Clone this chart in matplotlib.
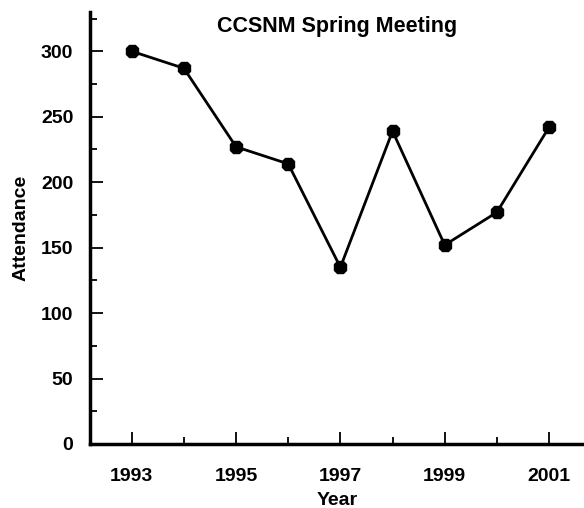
import matplotlib.pyplot as plt
from matplotlib.ticker import MultipleLocator

years = [1993, 1994, 1995, 1996, 1997, 1998, 1999, 2000, 2001]
attendance = [300, 287, 227, 214, 135, 239, 152, 177, 242]

plt.rcParams['font.family'] = ['Liberation Sans', 'DejaVu Sans']
plt.rcParams['font.weight'] = 'bold'

fig = plt.figure(figsize=(5.84, 5.08), dpi=100)
ax = fig.add_axes([90 / 584, 64 / 508, 494 / 584, 432 / 508])

ax.plot(years, attendance, color='black', linewidth=2.0,
        marker='8', markersize=10, markerfacecolor='black', markeredgecolor='black')

ax.set_xlim(1992.2, 2001.67)
ax.set_ylim(0, 330)

ax.xaxis.set_minor_locator(MultipleLocator(1))
ax.yaxis.set_major_locator(MultipleLocator(50))
ax.yaxis.set_minor_locator(MultipleLocator(25))
ax.set_xticks([1993, 1995, 1997, 1999, 2001])

for side in ['top', 'right']:
    ax.spines[side].set_visible(False)
for side in ['left', 'bottom']:
    ax.spines[side].set_linewidth(2.5)

ax.tick_params(which='major', direction='in', length=9, width=1.3, labelsize=14)
ax.tick_params(which='minor', direction='in', length=5, width=1.3)
ax.tick_params(axis='y', which='major', pad=12)
ax.tick_params(axis='x', which='major', pad=17)

ax.set_title('CCSNM Spring Meeting', fontsize=15.5, fontweight='bold', y=0.935)
ax.set_xlabel('Year', fontsize=14, fontweight='bold', labelpad=5)
ax.set_ylabel('Attendance', fontsize=14, fontweight='bold', labelpad=8)

fig.savefig('out.png', dpi=100)
